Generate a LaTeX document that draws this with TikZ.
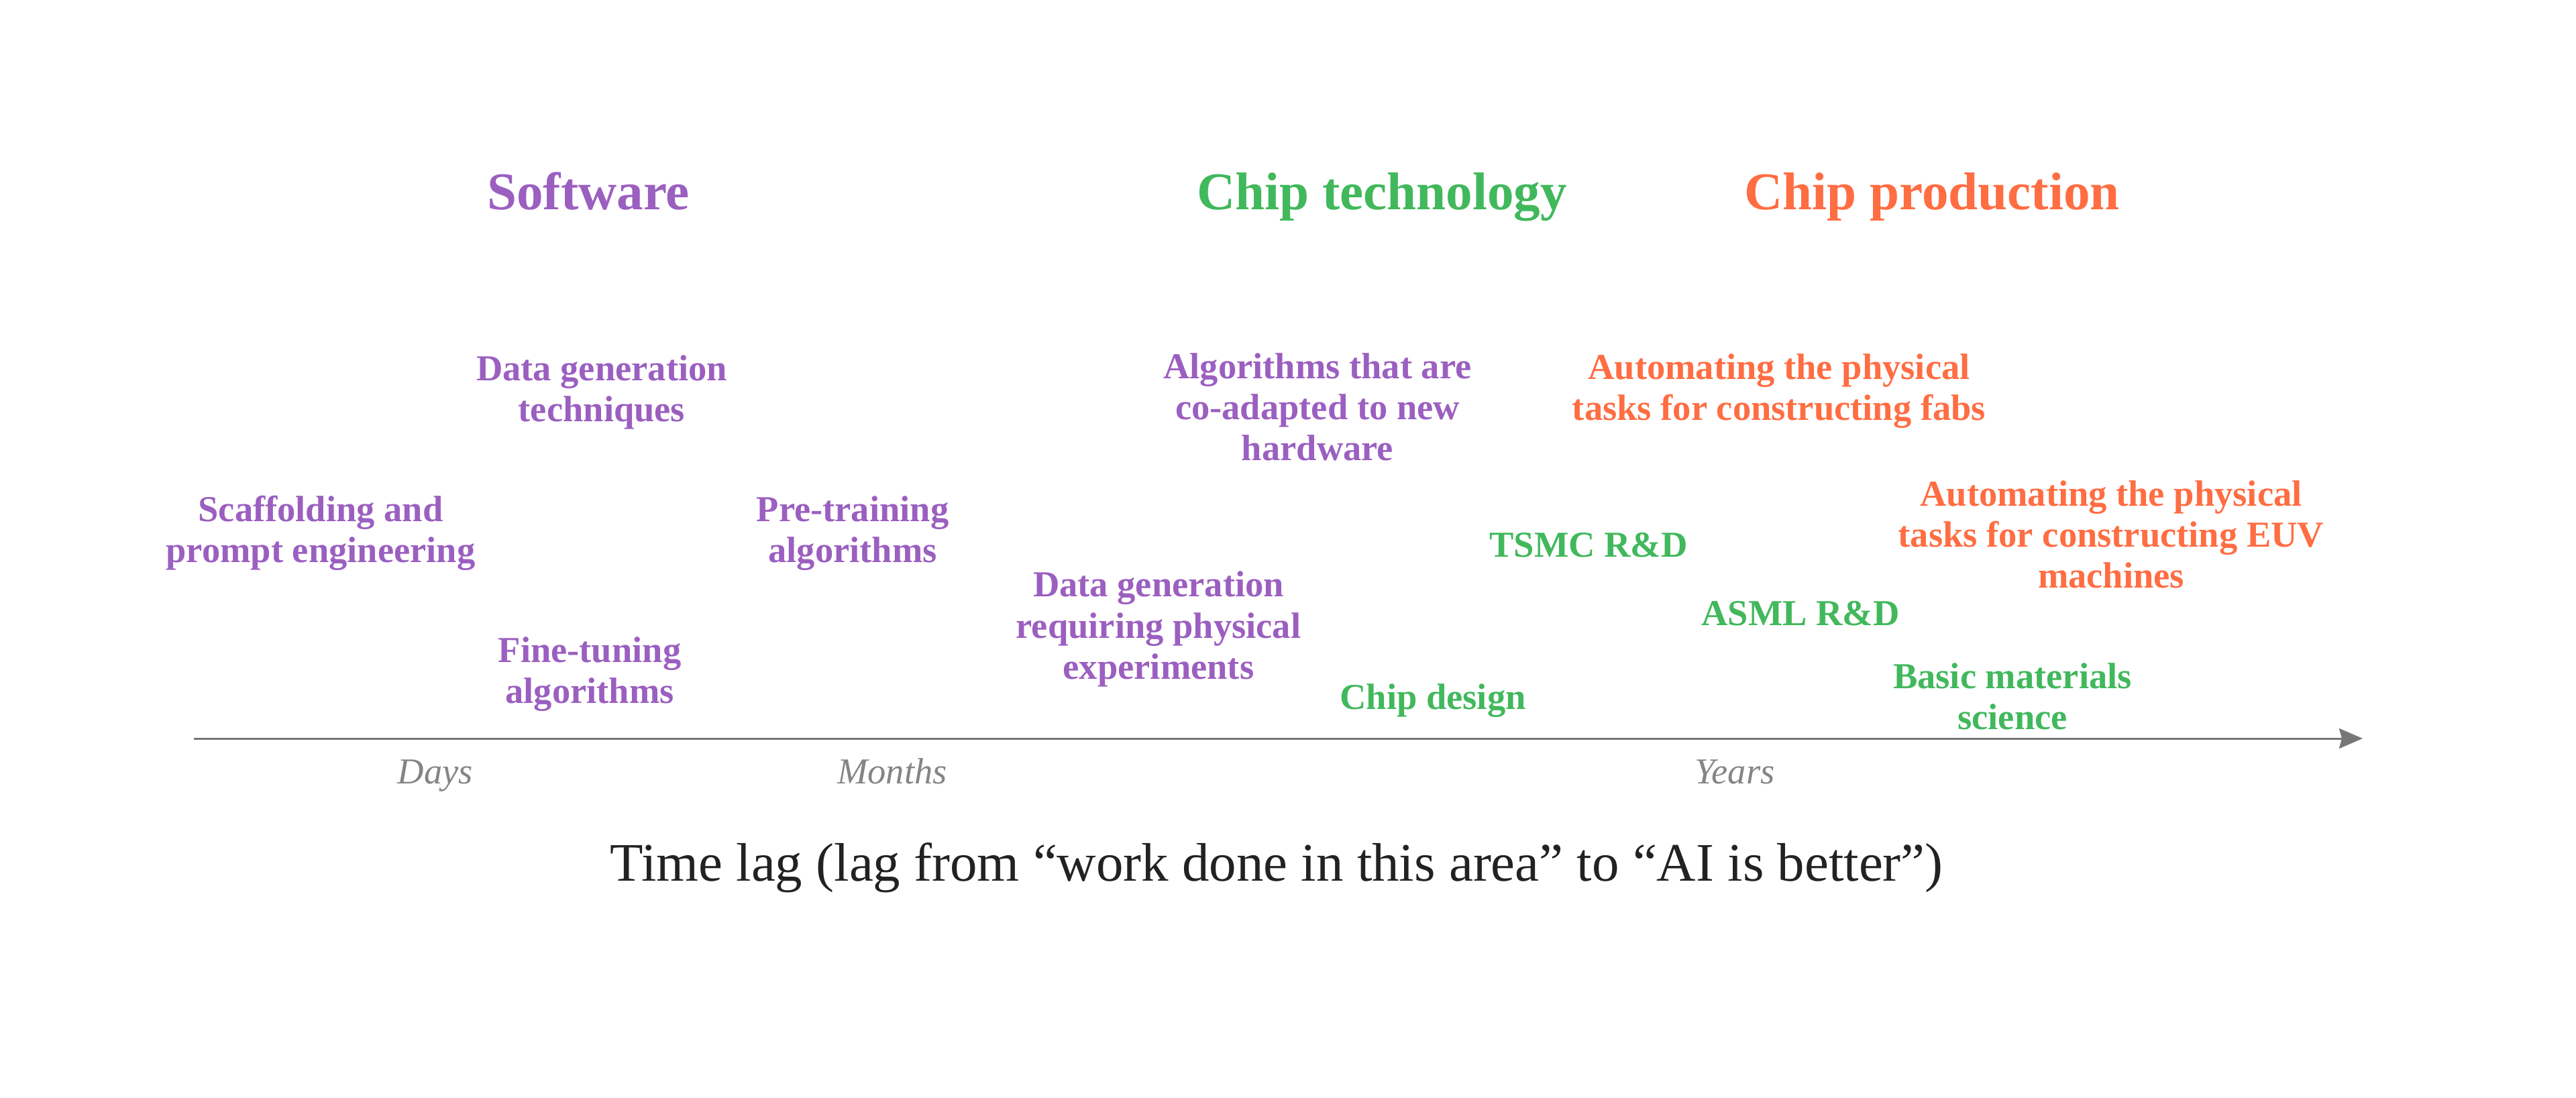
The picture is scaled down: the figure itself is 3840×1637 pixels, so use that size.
\documentclass[tikz,border=0pt]{standalone}
\usepackage{fontspec}
\setmainfont{Liberation Serif}
\usetikzlibrary{arrows.meta}
\definecolor{softpurple}{HTML}{9B5FC0}
\definecolor{techgreen}{HTML}{41B85C}
\definecolor{prodorange}{HTML}{FF6D42}
\definecolor{axisgray}{HTML}{777777}
\definecolor{tickgray}{HTML}{858585}
\definecolor{inkblack}{HTML}{222222}

\begin{document}
\begin{tikzpicture}[
	x=0.01cm, y=-0.01cm,
	head/.style = {font=\fontsize{22.5}{26}\selectfont\bfseries, inner sep=0pt, anchor=base},
	item/.style = {font=\fontsize{15.5}{17.4}\selectfont\bfseries, align=center, inner sep=0pt},
	soft/.style = {item, text=softpurple},
	tech/.style = {item, text=techgreen},
	prod/.style = {item, text=prodorange},
	tick/.style = {font=\fontsize{15.5}{18}\selectfont\itshape, text=tickgray, inner sep=0pt, anchor=base},
	>={Stealth[length=10pt, width=8.5pt, inset=1.2pt]}]
	
	\useasboundingbox (0,0) rectangle (3840,1637);
	
	% column headings
	\node[head, text=softpurple] (software) at (877,313) {Software};
	\node[head, text=techgreen] (chiptech) at (2060,313) {Chip technology};
	\node[head, text=prodorange] (chipprod) at (2880,313) {Chip production};
	
	% software items
	\node[soft] (datagen) at (897,585) {Data generation\\techniques};
	\node[soft] (scaffold) at (478,795) {Scaffolding and\\prompt engineering};
	\node[soft] (pretrain) at (1271,795) {Pre-training\\algorithms};
	\node[soft] (finetune) at (879,1005) {Fine-tuning\\algorithms};
	\node[soft] (physdata) at (1727,938) {Data generation\\requiring physical\\experiments};
	\node[soft] (coadapt) at (1964,607) {Algorithms that are\\co-adapted to new\\hardware};
	
	% chip technology items
	\node[tech] (tsmc) at (2368,813) {TSMC R\&D};
	\node[tech] (asml) at (2684,915) {ASML R\&D};
	\node[tech] (chipdesign) at (2136,1045) {Chip design};
	\node[tech] (materials) at (3000,1038) {Basic materials\\science};
	
	% chip production items
	\node[prod] (fabs) at (2652,583) {Automating the physical\\tasks for constructing fabs};
	\node[prod] (euv) at (3147,797) {Automating the physical\\tasks for constructing EUV\\machines};
	
	% time axis
	\coordinate (axisstart) at (289,1101);
	\coordinate (axisend) at (3522,1101);
	\draw[->, axisgray, line width=0.85pt] (axisstart) -- (axisend);
	
	\foreach \lbl/\xpos in {Days/649, Months/1330, Years/2586}
	\node[tick] (\lbl) at (\xpos,1168) {\lbl};
	
	\node[font=\fontsize{23}{27}\selectfont, text=inkblack, inner sep=0pt, anchor=base] (timelag) at (1903,1313) {Time lag (lag from “work done in this area” to “AI is better”)};
\end{tikzpicture}
\end{document}
